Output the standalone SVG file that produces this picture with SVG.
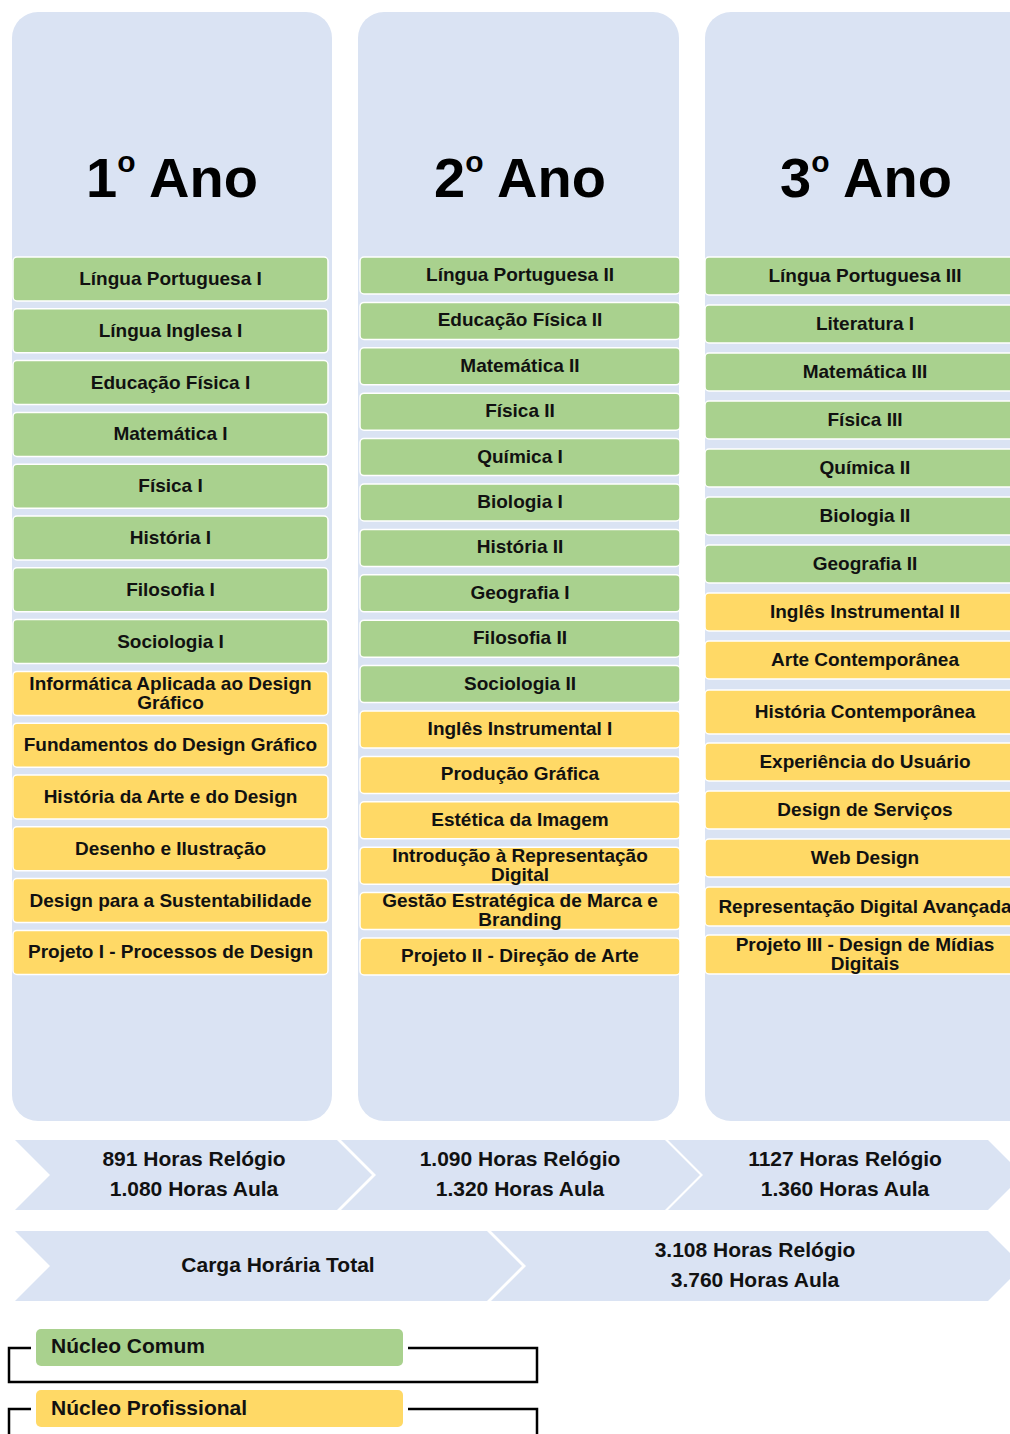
<svg xmlns="http://www.w3.org/2000/svg" width="1010" height="1434" viewBox="0 0 1010 1434">
<style>
.bg{fill:#fff}
.col{fill:#DAE3F3}
.g{fill:#A9D18E;stroke:#fff;stroke-width:1.5}
.y{fill:#FFD966;stroke:#fff;stroke-width:1.5}
.lg{fill:#A9D18E}
.ly{fill:#FFD966}
.chev{fill:#DAE3F3}
text{font-family:"Liberation Sans",Arial,sans-serif;font-weight:bold;fill:#111}
.t{font-size:19px;text-anchor:middle}
.h{font-size:56px;text-anchor:middle;fill:#000}
.c{font-size:21px;text-anchor:middle}
.l{font-size:21px}
.br{fill:none;stroke:#000;stroke-width:2.5}
</style>
<rect class="bg" x="0" y="0" width="1010" height="1434"/>

<g id="col1">
<rect class="col" x="12" y="12" width="320" height="1109" rx="26"/>
<text class="h" x="172" y="197">1<tspan font-size="30" dy="-25">o</tspan><tspan dy="25"> Ano</tspan></text>
</g>
<g id="col2">
<rect class="col" x="358" y="12" width="321" height="1109" rx="26"/>
<text class="h" x="520" y="197">2<tspan font-size="30" dy="-25">o</tspan><tspan dy="25"> Ano</tspan></text>
</g>
<g id="col3">
<rect class="col" x="705" y="12" width="330" height="1109" rx="26"/>
<text class="h" x="866" y="197">3<tspan font-size="30" dy="-25">o</tspan><tspan dy="25"> Ano</tspan></text>
</g>

<g id="y1-items">
<g id="y1-1"><rect class="g" x="13" y="257" width="315" height="44" rx="4"/><text class="t" x="170.5" y="285">Língua Portuguesa I</text></g>
<g id="y1-2"><rect class="g" x="13" y="308.8" width="315" height="44" rx="4"/><text class="t" x="170.5" y="336.8">Língua Inglesa I</text></g>
<g id="y1-3"><rect class="g" x="13" y="360.6" width="315" height="44" rx="4"/><text class="t" x="170.5" y="388.6">Educação Física I</text></g>
<g id="y1-4"><rect class="g" x="13" y="412.4" width="315" height="44" rx="4"/><text class="t" x="170.5" y="440.4">Matemática I</text></g>
<g id="y1-5"><rect class="g" x="13" y="464.2" width="315" height="44" rx="4"/><text class="t" x="170.5" y="492.2">Física I</text></g>
<g id="y1-6"><rect class="g" x="13" y="516" width="315" height="44" rx="4"/><text class="t" x="170.5" y="544">História I</text></g>
<g id="y1-7"><rect class="g" x="13" y="567.8" width="315" height="44" rx="4"/><text class="t" x="170.5" y="595.8">Filosofia I</text></g>
<g id="y1-8"><rect class="g" x="13" y="619.6" width="315" height="44" rx="4"/><text class="t" x="170.5" y="647.6">Sociologia I</text></g>
<g id="y1-9"><rect class="y" x="13" y="671.4" width="315" height="44" rx="4"/><text class="t" x="170.5" y="690">Informática Aplicada ao Design</text><text class="t" x="170.5" y="709">Gráfico</text></g>
<g id="y1-10"><rect class="y" x="13" y="723.2" width="315" height="44" rx="4"/><text class="t" x="170.5" y="751.2">Fundamentos do Design Gráfico</text></g>
<g id="y1-11"><rect class="y" x="13" y="775" width="315" height="44" rx="4"/><text class="t" x="170.5" y="803">História da Arte e do Design</text></g>
<g id="y1-12"><rect class="y" x="13" y="826.8" width="315" height="44" rx="4"/><text class="t" x="170.5" y="854.8">Desenho e Ilustração</text></g>
<g id="y1-13"><rect class="y" x="13" y="878.6" width="315" height="44" rx="4"/><text class="t" x="170.5" y="906.6">Design para a Sustentabilidade</text></g>
<g id="y1-14"><rect class="y" x="13" y="930.4" width="315" height="44" rx="4"/><text class="t" x="170.5" y="958.4">Projeto I - Processos de Design</text></g>
</g>

<g id="y2-items">
<g id="y2-1"><rect class="g" x="360" y="257" width="320" height="37" rx="4"/><text class="t" x="520" y="281">Língua Portuguesa II</text></g>
<g id="y2-2"><rect class="g" x="360" y="302.4" width="320" height="37" rx="4"/><text class="t" x="520" y="326.4">Educação Física II</text></g>
<g id="y2-3"><rect class="g" x="360" y="347.8" width="320" height="37" rx="4"/><text class="t" x="520" y="371.8">Matemática II</text></g>
<g id="y2-4"><rect class="g" x="360" y="393.2" width="320" height="37" rx="4"/><text class="t" x="520" y="417.2">Física II</text></g>
<g id="y2-5"><rect class="g" x="360" y="438.6" width="320" height="37" rx="4"/><text class="t" x="520" y="462.6">Química I</text></g>
<g id="y2-6"><rect class="g" x="360" y="484" width="320" height="37" rx="4"/><text class="t" x="520" y="508">Biologia I</text></g>
<g id="y2-7"><rect class="g" x="360" y="529.4" width="320" height="37" rx="4"/><text class="t" x="520" y="553.4">História II</text></g>
<g id="y2-8"><rect class="g" x="360" y="574.8" width="320" height="37" rx="4"/><text class="t" x="520" y="598.8">Geografia I</text></g>
<g id="y2-9"><rect class="g" x="360" y="620.2" width="320" height="37" rx="4"/><text class="t" x="520" y="644.2">Filosofia II</text></g>
<g id="y2-10"><rect class="g" x="360" y="665.6" width="320" height="37" rx="4"/><text class="t" x="520" y="689.6">Sociologia II</text></g>
<g id="y2-11"><rect class="y" x="360" y="711" width="320" height="37" rx="4"/><text class="t" x="520" y="735">Inglês Instrumental I</text></g>
<g id="y2-12"><rect class="y" x="360" y="756.4" width="320" height="37" rx="4"/><text class="t" x="520" y="780.4">Produção Gráfica</text></g>
<g id="y2-13"><rect class="y" x="360" y="801.8" width="320" height="37" rx="4"/><text class="t" x="520" y="825.8">Estética da Imagem</text></g>
<g id="y2-14"><rect class="y" x="360" y="847.2" width="320" height="37" rx="4"/><text class="t" x="520" y="862">Introdução à Representação</text><text class="t" x="520" y="881">Digital</text></g>
<g id="y2-15"><rect class="y" x="360" y="892.6" width="320" height="37" rx="4"/><text class="t" x="520" y="907">Gestão Estratégica de Marca e</text><text class="t" x="520" y="926">Branding</text></g>
<g id="y2-16"><rect class="y" x="360" y="938" width="320" height="37" rx="4"/><text class="t" x="520" y="962">Projeto II - Direção de Arte</text></g>
</g>

<g id="y3-items">
<g id="y3-1"><rect class="g" x="705" y="257" width="320" height="38" rx="4"/><text class="t" x="865" y="282">Língua Portuguesa III</text></g>
<g id="y3-2"><rect class="g" x="705" y="305" width="320" height="38" rx="4"/><text class="t" x="865" y="330">Literatura I</text></g>
<g id="y3-3"><rect class="g" x="705" y="353" width="320" height="38" rx="4"/><text class="t" x="865" y="378">Matemática III</text></g>
<g id="y3-4"><rect class="g" x="705" y="401" width="320" height="38" rx="4"/><text class="t" x="865" y="426">Física III</text></g>
<g id="y3-5"><rect class="g" x="705" y="449" width="320" height="38" rx="4"/><text class="t" x="865" y="474">Química II</text></g>
<g id="y3-6"><rect class="g" x="705" y="497" width="320" height="38" rx="4"/><text class="t" x="865" y="522">Biologia II</text></g>
<g id="y3-7"><rect class="g" x="705" y="545" width="320" height="38" rx="4"/><text class="t" x="865" y="570">Geografia II</text></g>
<g id="y3-8"><rect class="y" x="705" y="593" width="320" height="38" rx="4"/><text class="t" x="865" y="618">Inglês Instrumental II</text></g>
<g id="y3-9"><rect class="y" x="705" y="641" width="320" height="38" rx="4"/><text class="t" x="865" y="666">Arte Contemporânea</text></g>
<g id="y3-10"><rect class="y" x="705" y="690" width="320" height="44" rx="4"/><text class="t" x="865" y="718">História Contemporânea</text></g>
<g id="y3-11"><rect class="y" x="705" y="743" width="320" height="38" rx="4"/><text class="t" x="865" y="768">Experiência do Usuário</text></g>
<g id="y3-12"><rect class="y" x="705" y="791" width="320" height="38" rx="4"/><text class="t" x="865" y="816">Design de Serviços</text></g>
<g id="y3-13"><rect class="y" x="705" y="839" width="320" height="38" rx="4"/><text class="t" x="865" y="864">Web Design</text></g>
<g id="y3-14"><rect class="y" x="705" y="887" width="320" height="39" rx="4"/><text class="t" x="865" y="913">Representação Digital Avançada</text></g>
<g id="y3-15"><rect class="y" x="705" y="935" width="320" height="39" rx="4"/><text class="t" x="865" y="951">Projeto III - Design de Mídias</text><text class="t" x="865" y="970">Digitais</text></g>
</g>

<g id="hours-1">
<polygon class="chev" points="15,1140 337,1140 372,1175 337,1210 15,1210 50,1175"/>
<text class="c" x="194" y="1166">891 Horas Relógio</text>
<text class="c" x="194" y="1196">1.080 Horas Aula</text>
</g>
<g id="hours-2">
<polygon class="chev" points="341,1140 665,1140 700,1175 665,1210 341,1210 376,1175"/>
<text class="c" x="520" y="1166">1.090 Horas Relógio</text>
<text class="c" x="520" y="1196">1.320 Horas Aula</text>
</g>
<g id="hours-3">
<polygon class="chev" points="668,1140 988,1140 1023,1175 988,1210 668,1210 703,1175"/>
<text class="c" x="845" y="1166">1127 Horas Relógio</text>
<text class="c" x="845" y="1196">1.360 Horas Aula</text>
</g>
<g id="total-label">
<polygon class="chev" points="15,1231 487,1231 522,1266 487,1301 15,1301 50,1266"/>
<text class="c" x="278" y="1272">Carga Horária Total</text>
</g>
<g id="total-value">
<polygon class="chev" points="491,1231 988,1231 1023,1266 988,1301 491,1301 526,1266"/>
<text class="c" x="755" y="1257">3.108 Horas Relógio</text>
<text class="c" x="755" y="1287">3.760 Horas Aula</text>
</g>

<g id="connectors">
<path class="br" d="M31 1348 H9 V1382 H537 V1348 H408"/>
<path class="br" d="M31 1409 H9 V1440 M408 1409 H537 V1440"/>
</g>

<g id="legend-comum">
<rect class="lg" x="36" y="1329" width="367" height="37" rx="5"/>
<text class="l" x="51" y="1353">Núcleo Comum</text>
</g>
<g id="legend-profissional">
<rect class="ly" x="36" y="1390" width="367" height="37" rx="5"/>
<text class="l" x="51" y="1414.5">Núcleo Profissional</text>
</g>
</svg>
